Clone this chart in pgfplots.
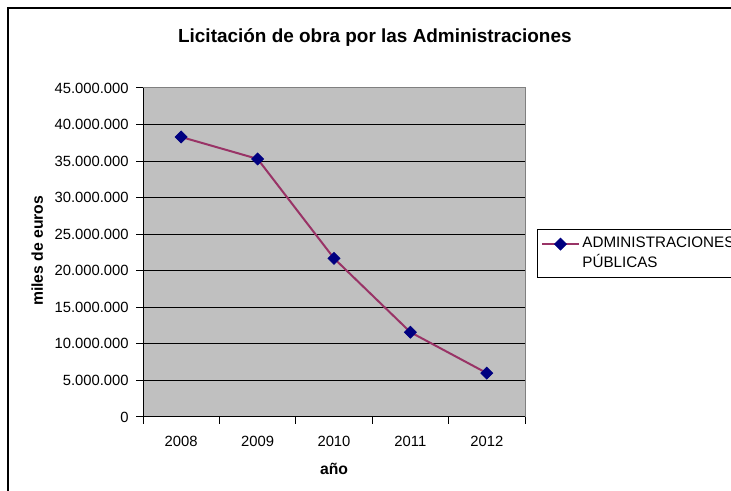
\documentclass[border=0pt]{standalone}
\usepackage{fontspec}
\setmainfont{Liberation Sans}
\usepackage{pgfplots}
\pgfplotsset{compat=1.18}
\definecolor{plotgray}{HTML}{C0C0C0}
\definecolor{linepurple}{HTML}{993366}
\definecolor{navyblue}{HTML}{000080}
\begin{document}
\begin{tikzpicture}[x=0.75pt,y=0.75pt]
\useasboundingbox (0,0) rectangle (731,491);
\draw[black, line width=0.9pt] (8,483) rectangle (780,-30);
\begin{axis}[
  at={(107.25pt,55.5pt)}, anchor=south west,
  scale only axis, width=286.5pt, height=246.75pt,
  xmin=0, xmax=5, ymin=0, ymax=45000000,
  axis background/.style={fill=plotgray},
  axis line style={draw=gray, line width=0.75pt},
  xtick={0,1,2,3,4,5},
  xticklabels={2008,2009,2010,2011,2012},
  x tick label as interval=true,
  ytick={0,5000000,10000000,15000000,20000000,25000000,30000000,35000000,40000000,45000000},
  scaled y ticks=false,
  /pgf/number format/assume math mode=true,
  /pgf/number format/fixed,
  /pgf/number format/precision=0,
  /pgf/number format/1000 sep={.},
  tick align=outside,
  major tick length=5pt,
  tick style={black, line width=0.75pt},
  xtick pos=bottom, ytick pos=left,
  ymajorgrids, xmajorgrids=false,
  grid style={black, line width=0.75pt},
  ticklabel style={font=\fontsize{11.1}{13}\selectfont},
  xticklabel style={yshift=-6pt},
  yticklabel style={xshift=-2.25pt},
  xlabel={año},
  ylabel={miles de euros},
  label style={font=\fontsize{11.8}{14}\selectfont\bfseries},
  xlabel style={at={(axis description cs:0.5,-0.158)}, anchor=center},
  ylabel style={at={(axis description cs:-0.277,0.505)}, anchor=center},
  title={Licitación de obra por las Administraciones},
  title style={font=\fontsize{14.2}{16}\selectfont\bfseries, at={(axis description cs:0.607,1.128)}, anchor=center},
  legend style={at={(axis description cs:1.031,0.571)}, anchor=north west, draw=black, fill=white, line width=0.75pt,
    font=\fontsize{11.4}{12.8}\selectfont, cells={align=left}, inner ysep=3.5pt},
  legend cell align=left,
  legend image code/.code={\draw[mark repeat=2,mark phase=2,yshift=7pt,#1] plot coordinates {(0cm,0cm) (0.48cm,0cm) (0.96cm,0cm)};},
]
\draw[black, line width=0.75pt] (rel axis cs:0,0) -- (rel axis cs:0,1);
\draw[black, line width=0.75pt] (rel axis cs:0,0) -- (rel axis cs:1,0);
\addplot[color=linepurple, line width=1.5pt, mark=square*, mark size=3.2pt,
  mark options={fill=navyblue, draw=navyblue, rotate=45, line width=0.5pt}]
  coordinates {(0.5,38300000) (1.5,35300000) (2.5,21700000) (3.5,11600000) (4.5,6000000)};
\addlegendentry{ADMINISTRACIONES\\[2.5pt]PÚBLICAS}
\end{axis}
\end{tikzpicture}
\end{document}
